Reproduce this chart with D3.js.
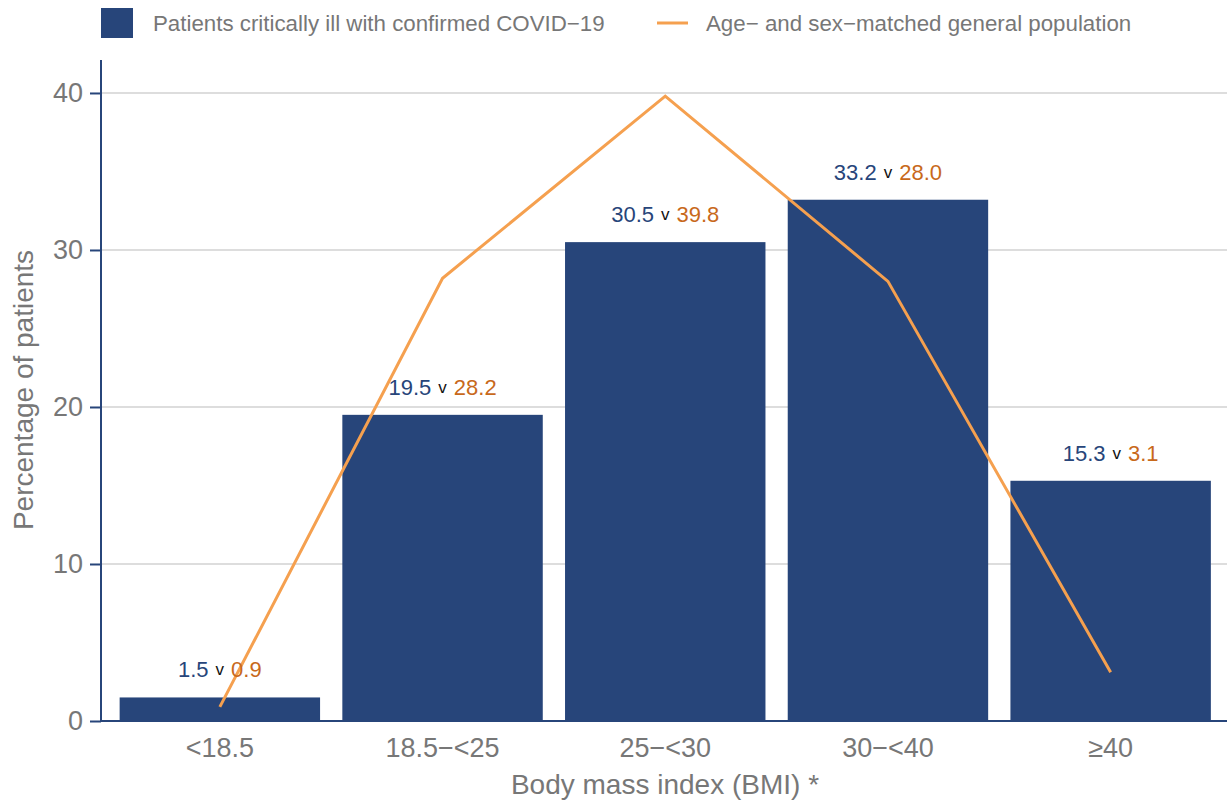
<!DOCTYPE html>
<html>
<head>
<meta charset="utf-8">
<script src="https://cdn.jsdelivr.net/npm/d3@7"></script>
<style>
  body { margin: 0; background: #fff; }
  text { font-family: "Liberation Sans", Arial, sans-serif; }
</style>
</head>
<body>
<script>
var w = 1227;
var h = 803;

// data
var categories = ["<18.5", "18.5\u2212<25", "25\u2212<30", "30\u2212<40", "\u226540"];
var patients = [1.5, 19.5, 30.5, 33.2, 15.3];
var population = [0.9, 28.2, 39.8, 28.0, 3.1];
var yTicks = [0, 10, 20, 30, 40];

var barColor = "#27457a";
var lineColor = "#f5a04f";
var darkOrange = "#c8691b";
var grey = "#777777";

var svg = d3.select("body")
    .append("svg")
    .attr("width", w)
    .attr("height", h);

//************** scales
var x = d3.scaleBand()
    .domain(categories)
    .range([108.5, 1222])
    .paddingInner(0.1)
    .paddingOuter(0.05);

var y = d3.scaleLinear()
    .domain([0, 42.1])
    .range([721, 60]);

// grid
svg.selectAll("line.grid")
    .data(yTicks.slice(1))
    .enter()
    .append("line")
    .attr("class", "grid")
    .attr("x1", 101)
    .attr("x2", w)
    .attr("y1", function (d) { return y(d); })
    .attr("y2", function (d) { return y(d); })
    .style("stroke", "#dddddd")
    .style("stroke-width", 2);

// bars
svg.selectAll("rect.bar")
    .data(patients)
    .enter()
    .append("rect")
    .attr("class", "bar")
    .attr("x", function (d, i) { return x(categories[i]); })
    .attr("y", function (d) { return y(d); })
    .attr("width", x.bandwidth())
    .attr("height", function (d) { return y(0) - y(d); })
    .style("fill", barColor);

// population line
var line = d3.line()
    .x(function (d, i) { return x(categories[i]) + x.bandwidth() / 2; })
    .y(function (d) { return y(d); });

svg.append("path")
    .datum(population)
    .attr("d", line)
    .style("fill", "none")
    .style("stroke", lineColor)
    .style("stroke-width", 3);

// value labels
var labels = svg.selectAll("text.lab")
    .data(patients)
    .enter()
    .append("text")
    .attr("class", "lab")
    .attr("x", function (d, i) { return x(categories[i]) + x.bandwidth() / 2; })
    .attr("y", function (d) { return y(d) - 20; })
    .attr("text-anchor", "middle")
    .style("font-size", "22px");

labels.append("tspan")
    .style("fill", barColor)
    .text(function (d) { return d.toFixed(1); });
labels.append("tspan")
    .style("fill", "#111")
    .style("font-size", "17px")
    .attr("dx", 7)
    .attr("dy", -2)
    .text("v");
labels.append("tspan")
    .style("fill", darkOrange)
    .attr("dx", 7)
    .attr("dy", 2)
    .text(function (d, i) { return population[i].toFixed(1); });

// axes
var yAxis = svg.append("g")
    .attr("transform", "translate(101,0)")
    .call(d3.axisLeft(y).tickValues(yTicks).tickSize(11).tickPadding(7));
yAxis.select(".domain").remove();

svg.append("line")
    .attr("x1", 101).attr("x2", 101)
    .attr("y1", 60).attr("y2", 722)
    .style("stroke", barColor)
    .style("stroke-width", 2);
svg.append("line")
    .attr("x1", 101).attr("x2", w)
    .attr("y1", 721).attr("y2", 721)
    .style("stroke", barColor)
    .style("stroke-width", 2);

yAxis.selectAll(".tick line")
    .style("stroke", barColor)
    .style("stroke-width", 2);
yAxis.selectAll(".tick text")
    .style("fill", grey)
    .style("font-size", "27px");

var xAxis = svg.append("g")
    .attr("transform", "translate(0,721)")
    .call(d3.axisBottom(x).tickSize(0).tickPadding(17));
xAxis.select(".domain").remove();
xAxis.selectAll(".tick text")
    .style("fill", grey)
    .style("font-size", "27px");

// axis titles
svg.append("text")
    .attr("x", 665)
    .attr("y", 794)
    .attr("text-anchor", "middle")
    .style("fill", grey)
    .style("font-size", "28px")
    .text("Body mass index (BMI) *");

svg.append("text")
    .attr("transform", "translate(33,390) rotate(-90)")
    .attr("text-anchor", "middle")
    .style("fill", grey)
    .style("font-size", "28px")
    .text("Percentage of patients");

// legend
svg.append("rect")
    .attr("x", 101).attr("y", 8)
    .attr("width", 32).attr("height", 30)
    .style("fill", barColor);
svg.append("text")
    .attr("x", 153).attr("y", 31)
    .style("fill", grey)
    .style("font-size", "22.3px")
    .text("Patients critically ill with confirmed COVID\u221219");
svg.append("line")
    .attr("x1", 657).attr("x2", 688)
    .attr("y1", 23).attr("y2", 23)
    .style("stroke", lineColor)
    .style("stroke-width", 3);
svg.append("text")
    .attr("x", 706).attr("y", 31)
    .style("fill", grey)
    .style("font-size", "22.3px")
    .text("Age\u2212 and sex\u2212matched general population");
</script>
</body>
</html>
